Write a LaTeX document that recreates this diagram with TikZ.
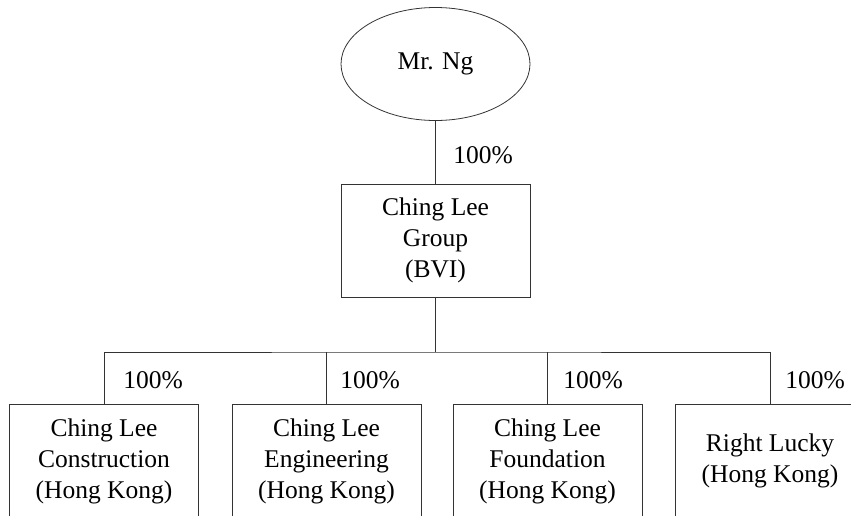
\documentclass[tikz,border=0pt]{standalone}
\usepackage{fontspec}
\setmainfont{Liberation Serif}
\usetikzlibrary{shapes.geometric,positioning}

\begin{document}
\begin{tikzpicture}[x=1pt,y=-1pt,line width=0.8pt,
  every node/.style={font=\fontsize{25.5}{31}\selectfont},
  owner/.style={ellipse,draw=black!80,minimum width=189pt,minimum height=113pt,inner sep=0pt},
  company/.style={draw=black!80,minimum width=189pt,minimum height=113pt,align=center,inner sep=0pt},
  share/.style={anchor=west,inner sep=0pt}]
  \clip (0,0) rectangle (851,515);
  \node[owner] (ng) at (435.5,64) {Mr. Ng};
  \node[company] (grp) at (435.5,240.5) {Ching Lee\\Group\\(BVI)};
  \node[company] (con) at (104,461) {Ching Lee\\Construction\\(Hong Kong)};
  \node[company] (eng) at (326.5,461) {Ching Lee\\Engineering\\(Hong Kong)};
  \node[company] (fdn) at (547.5,461) {Ching Lee\\Foundation\\(Hong Kong)};
  \node[company] (rl) at (770,461) {Right Lucky\\(Hong Kong)};
  \coordinate (bus) at (435.5,352);
  \draw[black!80] (ng) -- (grp);
  \draw[black!80] (grp) -- (bus);
  \draw[black!80] (con.north) |- (bus) -| (rl.north);
  \draw[black!80] (eng.north) -- (eng.north |- bus);
  \draw[black!80] (fdn.north) -- (fdn.north |- bus);
  \node[share] (p0) at (453,155) {100\%};
  \node[share] (p1) at (123,380) {100\%};
  \node[share] (p2) at (340,380) {100\%};
  \node[share] (p3) at (563,380) {100\%};
  \node[share] (p4) at (785,380) {100\%};
\end{tikzpicture}
\end{document}
